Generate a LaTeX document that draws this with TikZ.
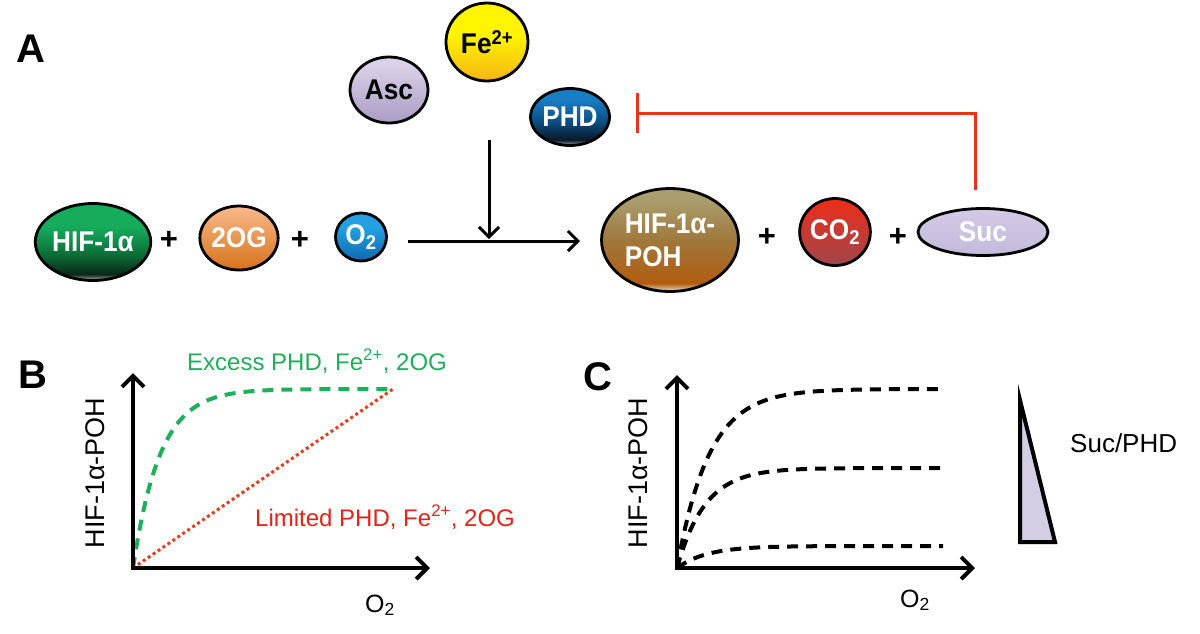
\documentclass[tikz,border=0pt]{standalone}
\usepackage{fontspec}
\setmainfont{Liberation Sans}
\usetikzlibrary{shapes.geometric,arrows.meta}
\definecolor{hifT}{RGB}{22,172,92}
\definecolor{hifM}{RGB}{12,110,55}
\definecolor{hifB}{RGB}{10,40,25}
\definecolor{hifR}{RGB}{175,175,175}
\definecolor{ogT}{RGB}{248,185,140}
\definecolor{ogB}{RGB}{215,115,25}
\definecolor{oT}{RGB}{35,160,225}
\definecolor{oB}{RGB}{15,105,175}
\definecolor{ascT}{RGB}{218,210,232}
\definecolor{ascB}{RGB}{170,155,195}
\definecolor{feT}{RGB}{255,245,0}
\definecolor{feB}{RGB}{245,180,20}
\definecolor{phdT}{RGB}{25,125,195}
\definecolor{phdM}{RGB}{12,75,125}
\definecolor{phdB}{RGB}{10,25,40}
\definecolor{phdR}{RGB}{160,160,160}
\definecolor{pohT}{RGB}{170,158,110}
\definecolor{pohM}{RGB}{160,120,60}
\definecolor{pohB}{RGB}{178,92,15}
\definecolor{pohR}{RGB}{235,225,215}
\definecolor{coT}{RGB}{238,45,25}
\definecolor{coB}{RGB}{160,70,75}
\definecolor{sucT}{RGB}{212,202,230}
\definecolor{sucB}{RGB}{195,185,218}
\definecolor{inhred}{RGB}{232,52,30}
\definecolor{exgreen}{RGB}{30,175,90}
\definecolor{limred}{RGB}{228,35,25}
\definecolor{dotred}{RGB}{232,60,30}
\definecolor{trifill}{RGB}{213,205,228}
\pgfdeclareverticalshading{shHIF}{100bp}{color(0bp)=(hifR); color(25bp)=(hifR); color(29bp)=(hifB); color(42bp)=(hifM); color(60bp)=(hifT); color(100bp)=(hifT)}
\pgfdeclareverticalshading{shOG}{100bp}{color(0bp)=(ogB); color(25bp)=(ogB); color(75bp)=(ogT); color(100bp)=(ogT)}
\pgfdeclareverticalshading{shO}{100bp}{color(0bp)=(oB); color(25bp)=(oB); color(60bp)=(oT); color(100bp)=(oT)}
\pgfdeclareverticalshading{shAsc}{100bp}{color(0bp)=(ascB); color(25bp)=(ascB); color(70bp)=(ascT); color(100bp)=(ascT)}
\pgfdeclareverticalshading{shFe}{100bp}{color(0bp)=(feB); color(25bp)=(feB); color(55bp)=(feT); color(100bp)=(feT)}
\pgfdeclareverticalshading{shPHD}{100bp}{color(0bp)=(phdR); color(25bp)=(phdR); color(30bp)=(phdB); color(45bp)=(phdM); color(65bp)=(phdT); color(100bp)=(phdT)}
\pgfdeclareverticalshading{shPOH}{100bp}{color(0bp)=(pohR); color(25bp)=(pohR); color(29bp)=(pohB); color(50bp)=(pohM); color(70bp)=(pohT); color(100bp)=(pohT)}
\pgfdeclareverticalshading{shCO}{100bp}{color(0bp)=(coB); color(25bp)=(coB); color(75bp)=(coT); color(100bp)=(coT)}
\pgfdeclareverticalshading{shSuc}{100bp}{color(0bp)=(sucB); color(25bp)=(sucB); color(75bp)=(sucT); color(100bp)=(sucT)}
\newfontfamily\bubfam[FakeStretch=0.92]{Liberation Sans}
\newcommand{\bubfont}{\bubfam\fontsize{28.5}{33}\selectfont\bfseries}
\newcommand{\panelfont}{\fontsize{40}{40}\selectfont\bfseries}
\begin{document}
\begin{tikzpicture}[x=1pt,y=-1pt,
  bub/.style={ellipse, draw=black, line width=2.8pt, inner sep=0pt, font=\bubfont, text=white},
  plus/.style={font=\fontsize{31}{31}\selectfont\bfseries},
  panel/.style={font=\panelfont, anchor=base west, inner sep=0pt},
  arr/.style={line width=3pt, -{Straight Barb[length=10pt,width=20pt]}},
  axisarr/.style={line width=4pt, line join=miter, {Straight Barb[length=11pt,width=22pt]}-{Straight Barb[length=11pt,width=22pt]}},
  inh/.style={draw=inhred, line width=3pt, -{Bar[width=40pt]}},
  ylab/.style={font=\fontsize{27}{27}\selectfont, rotate=90},
  olab/.style={font=\fontsize{25}{25}\selectfont, anchor=base west, inner sep=0pt},
  gtext/.style={font=\fontsize{24}{24}\selectfont, anchor=base west, inner sep=0pt},
  gdash/.style={draw=exgreen, line width=4pt, dash pattern=on 11pt off 8pt},
  rdot/.style={draw=dotred, line width=3pt, dash pattern=on 3pt off 3pt},
  kdash/.style={draw=black, line width=4pt, dash pattern=on 11pt off 8pt}]
\useasboundingbox (0,0) rectangle (1200,633);
\fill[white] (0,0) rectangle (1200,633);
% Panel A
\node[panel] (pA) at (16,62) {A};
\node[bub, shading=shAsc, minimum width=78pt, minimum height=66pt, text=black] (asc) at (389,90) {Asc};
\node[bub, shading=shFe, minimum width=82pt, minimum height=78pt, text=black] (fe) at (487,42) {Fe\textsuperscript{2+}};
\node[bub, shading=shPHD, minimum width=79pt, minimum height=57pt] (phd) at (570,117) {PHD};
\node[bub, shading=shHIF, minimum width=112pt, minimum height=77pt] (hif) at (93,242) {HIF-1α};
\node[plus] (p1) at (169,240) {+};
\node[bub, shading=shOG, minimum width=72pt, minimum height=64pt] (og) at (239,238) {2OG};
\node[plus] (p2) at (300,240) {+};
\node[bub, shading=shO, minimum width=51pt, minimum height=48pt] (o2) at (361,237) {O\textsubscript{2}};
\node[bub, shading=shPOH, minimum width=137pt, minimum height=103pt, align=left] (poh) at (670,240) {HIF-1α-\\POH};
\node[plus] (p3) at (767,237) {+};
\node[bub, shading=shCO, minimum width=66pt, minimum height=67pt] (co2) at (835,232) {CO\textsubscript{2}};
\node[plus] (p4) at (898,237) {+};
\node[bub, shading=shSuc, minimum width=130pt, minimum height=47pt] (suc) at (983,232) {Suc};
\coordinate (hs) at (408,241);
\coordinate (he) at (580,241);
\coordinate (vs) at (489,140);
\coordinate (ve) at (489,239);
\draw[arr] (hs) -- (he);
\draw[arr] (vs) -- (ve);
\coordinate (sucup) at (975,190);
\coordinate (phdbar) at (636,113);
\draw[inh] (sucup) |- (phdbar);
% Panel B
\node[panel] (pB) at (18,388) {B};
\coordinate (Bo) at (133,568);
\coordinate (Bx) at (430,568);
\coordinate (By) at (133,373);
\coordinate (Bend) at (393,389);
\draw[gdash] plot[domain=0:260, samples=120, smooth] ({133+\x},{568-179*(1-exp(-\x/27))});
\draw[rdot] (Bo) -- (Bend);
\draw[axisarr] (By) -- (Bo) -- (Bx);
\node[ylab] (Bylab) at (95,473) {HIF-1α-POH};
\node[olab] (Bxlab) at (365,612) {O\textsubscript{2}};
\node[gtext, text=exgreen] (exc) at (187,370) {Excess PHD, Fe\textsuperscript{2+}, 2OG};
\node[gtext, text=limred] (lim) at (255,526) {Limited PHD, Fe\textsuperscript{2+}, 2OG};
% Panel C
\node[panel] (pC) at (583,390) {C};
\coordinate (Co) at (677,568);
\coordinate (Cx) at (975,568);
\coordinate (Cy) at (677,375);
\draw[kdash] plot[domain=0:266, samples=120, smooth] ({677+\x},{568-179*(1-exp(-\x/32))});
\draw[kdash] plot[domain=0:266, samples=120, smooth] ({677+\x},{568-100*(1-exp(-\x/28))});
\draw[kdash] plot[domain=0:266, samples=120, smooth] ({677+\x},{568-22*(1-exp(-\x/30))});
\draw[axisarr] (Cy) -- (Co) -- (Cx);
\node[ylab] (Cylab) at (638,473) {HIF-1α-POH};
\node[olab] (Cxlab) at (900,607) {O\textsubscript{2}};
\draw[line width=4pt, fill=trifill, line join=miter] (1020,400) -- (1020,542) -- (1055,542) -- cycle;
\node[gtext, font=\fontsize{26}{26}\selectfont] (sp) at (1070,452) {Suc/PHD};
\end{tikzpicture}
\end{document}
